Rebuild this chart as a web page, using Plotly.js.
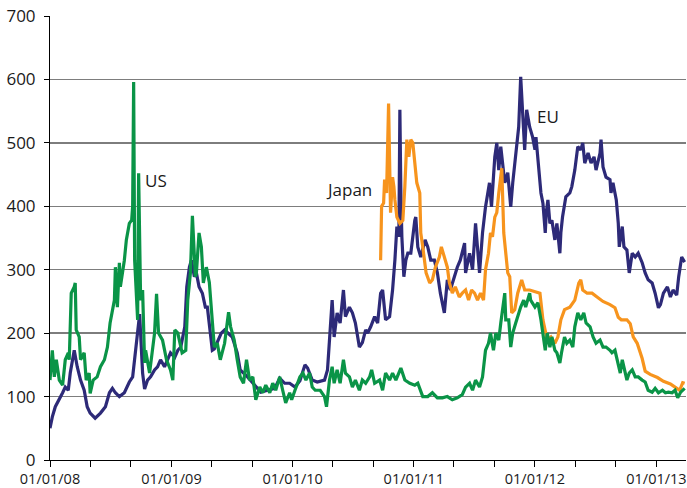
<!DOCTYPE html>
<html>
<head>
<meta charset="utf-8">
<script src="https://cdn.plot.ly/plotly-3.0.1.min.js"></script>
<style>html,body{margin:0;padding:0;background:#fff;}#chart{width:687px;height:488px;}</style>
</head>
<body>
<div id="chart"></div>
<script>
// EU series
var euDates = ["2008-01-01","2008-01-08","2008-01-17","2008-01-29","2008-02-08","2008-02-16","2008-02-25","2008-03-02","2008-03-11","2008-03-14","2008-03-23","2008-04-02","2008-04-13","2008-04-22","2008-05-01","2008-05-16","2008-06-01","2008-06-16","2008-06-28","2008-07-07","2008-07-16","2008-07-28","2008-08-12","2008-08-27","2008-09-06","2008-09-15","2008-09-27","2008-10-06","2008-10-12","2008-10-21","2008-10-30","2008-11-11","2008-11-20","2008-11-29","2008-12-11","2008-12-20","2008-12-29","2009-01-11","2009-01-20","2009-01-29","2009-02-10","2009-02-16","2009-02-24","2009-03-02","2009-03-11","2009-03-17","2009-03-25","2009-04-04","2009-04-13","2009-04-19","2009-05-04","2009-05-10","2009-05-19","2009-05-31","2009-06-10","2009-06-22","2009-07-03","2009-07-18","2009-07-27","2009-08-18","2009-09-09","2009-09-27","2009-10-18","2009-11-08","2009-11-23","2009-12-08","2009-12-23","2010-01-08","2010-01-23","2010-02-07","2010-02-15","2010-03-01","2010-03-16","2010-04-07","2010-04-16","2010-04-22","2010-04-30","2010-05-06","2010-05-15","2010-05-24","2010-06-03","2010-06-09","2010-06-21","2010-06-30","2010-07-09","2010-07-21","2010-07-30","2010-08-09","2010-08-15","2010-08-24","2010-09-05","2010-09-14","2010-09-23","2010-09-29","2010-10-08","2010-10-20","2010-10-29","2010-11-05","2010-11-11","2010-11-17","2010-11-20","2010-11-23","2010-11-26","2010-12-02","2010-12-08","2010-12-14","2010-12-23","2011-01-04","2011-01-07","2011-01-13","2011-01-22","2011-02-04","2011-02-12","2011-02-21","2011-03-04","2011-03-13","2011-03-22","2011-04-03","2011-04-12","2011-04-21","2011-05-03","2011-05-12","2011-05-21","2011-06-03","2011-06-06","2011-06-18","2011-06-27","2011-07-06","2011-07-18","2011-07-27","2011-08-05","2011-08-17","2011-08-23","2011-09-02","2011-09-08","2011-09-14","2011-09-20","2011-10-02","2011-10-11","2011-10-20","2011-10-26","2011-11-04","2011-11-13","2011-11-19","2011-11-25","2011-12-01","2011-12-07","2011-12-16","2011-12-25","2012-01-01","2012-01-04","2012-01-10","2012-01-19","2012-01-25","2012-02-01","2012-02-04","2012-02-09","2012-02-15","2012-02-21","2012-03-01","2012-03-07","2012-03-16","2012-03-19","2012-03-24","2012-04-03","2012-04-15","2012-04-21","2012-04-30","2012-05-09","2012-05-18","2012-05-24","2012-05-30","2012-06-09","2012-06-18","2012-06-27","2012-07-03","2012-07-15","2012-07-18","2012-07-24","2012-08-02","2012-08-14","2012-08-17","2012-08-23","2012-09-02","2012-09-08","2012-09-11","2012-09-20","2012-09-25","2012-10-04","2012-10-11","2012-10-20","2012-10-29","2012-11-07","2012-11-19","2012-11-28","2012-12-07","2012-12-19","2012-12-28","2013-01-07","2013-01-13","2013-01-22","2013-02-03","2013-02-12","2013-02-20","2013-03-03","2013-03-09","2013-03-18","2013-03-27"];
var euValues = [50,68,84,95,106,115,110,137,169,173,147,126,110,84,74,66,74,84,106,113,106,100,106,123,131,173,230,137,112,126,131,142,147,158,147,158,169,162,173,178,210,273,304,315,289,295,273,263,241,241,173,175,185,200,205,200,194,169,142,131,118,107,110,113,129,121,121,115,125,150,145,126,123,126,142,185,252,194,232,216,268,226,241,232,216,178,185,205,200,210,226,216,263,268,221,226,268,315,368,352,552,421,352,289,315,326,326,378,383,336,320,347,336,315,315,295,263,232,284,268,289,304,315,342,295,326,300,373,295,358,399,437,399,478,500,457,494,437,453,399,437,478,525,604,552,489,552,525,509,489,509,473,421,405,358,390,410,373,378,347,373,326,358,383,415,421,431,457,494,489,500,468,484,468,478,457,484,505,462,446,442,421,437,410,373,336,368,336,331,295,326,320,326,311,295,284,279,263,240,245,263,273,257,268,260,289,320,312];

// US series
var usDates = ["2008-01-01","2008-01-08","2008-01-14","2008-01-20","2008-01-29","2008-02-08","2008-02-16","2008-02-25","2008-02-28","2008-03-05","2008-03-14","2008-03-17","2008-03-20","2008-03-29","2008-04-02","2008-04-13","2008-04-19","2008-04-28","2008-05-01","2008-05-10","2008-05-22","2008-06-01","2008-06-13","2008-06-22","2008-06-30","2008-07-13","2008-07-16","2008-07-22","2008-07-28","2008-07-31","2008-08-12","2008-08-18","2008-08-27","2008-09-03","2008-09-06","2008-09-09","2008-09-12","2008-09-18","2008-09-21","2008-09-24","2008-09-30","2008-10-06","2008-10-12","2008-10-15","2008-10-27","2008-11-11","2008-11-17","2008-11-23","2008-12-05","2008-12-17","2008-12-29","2009-01-05","2009-01-11","2009-01-20","2009-02-02","2009-02-13","2009-02-19","2009-02-27","2009-03-05","2009-03-14","2009-03-17","2009-03-25","2009-04-01","2009-04-07","2009-04-16","2009-04-25","2009-05-04","2009-05-10","2009-05-19","2009-05-28","2009-06-10","2009-06-22","2009-06-28","2009-07-09","2009-07-18","2009-07-27","2009-08-06","2009-08-15","2009-08-24","2009-09-03","2009-09-12","2009-09-24","2009-10-03","2009-10-12","2009-10-24","2009-11-02","2009-11-11","2009-11-23","2009-12-02","2009-12-11","2009-12-23","2009-12-29","2010-01-08","2010-01-23","2010-02-01","2010-02-10","2010-02-21","2010-03-01","2010-03-10","2010-03-25","2010-04-07","2010-04-13","2010-04-22","2010-04-30","2010-05-06","2010-05-15","2010-05-24","2010-06-03","2010-06-09","2010-06-21","2010-06-30","2010-07-09","2010-07-21","2010-07-30","2010-08-09","2010-08-21","2010-08-27","2010-09-05","2010-09-20","2010-09-29","2010-10-08","2010-10-20","2010-10-29","2010-11-08","2010-11-23","2010-12-05","2010-12-20","2011-01-04","2011-01-13","2011-01-28","2011-02-12","2011-02-26","2011-03-13","2011-03-28","2011-04-12","2011-04-27","2011-05-12","2011-05-27","2011-06-06","2011-06-18","2011-06-27","2011-07-06","2011-07-18","2011-07-27","2011-08-05","2011-08-14","2011-08-20","2011-08-29","2011-09-05","2011-09-14","2011-09-20","2011-09-26","2011-10-02","2011-10-05","2011-10-14","2011-10-20","2011-10-26","2011-11-04","2011-11-13","2011-11-19","2011-11-28","2011-12-04","2011-12-16","2011-12-19","2012-01-01","2012-01-10","2012-01-19","2012-01-25","2012-02-01","2012-02-07","2012-02-15","2012-02-21","2012-03-01","2012-03-07","2012-03-16","2012-03-21","2012-03-30","2012-04-06","2012-04-15","2012-04-24","2012-04-30","2012-05-09","2012-05-18","2012-05-27","2012-06-03","2012-06-15","2012-06-24","2012-07-03","2012-07-15","2012-07-24","2012-08-02","2012-08-14","2012-08-20","2012-08-29","2012-09-08","2012-09-14","2012-09-20","2012-09-25","2012-10-04","2012-10-11","2012-10-20","2012-10-29","2012-11-07","2012-11-19","2012-11-28","2012-12-07","2012-12-19","2012-12-28","2013-01-07","2013-01-19","2013-01-28","2013-02-06","2013-02-17","2013-02-26","2013-03-06","2013-03-15","2013-03-27"];
var usValues = [126,173,131,158,126,118,158,169,158,263,273,279,205,194,158,169,126,137,105,126,131,147,158,178,216,252,304,241,311,273,315,347,373,378,400,596,315,241,221,452,252,268,153,173,137,200,262,200,189,158,142,126,205,200,169,173,252,295,385,289,295,358,336,279,304,280,221,178,184,158,184,233,210,189,158,131,121,158,126,131,95,115,106,118,106,121,110,131,110,90,106,95,110,131,137,126,137,115,110,110,100,84,126,147,121,142,121,158,137,131,115,126,110,126,121,131,142,121,126,110,137,126,137,126,145,126,121,118,121,100,100,106,98,98,100,95,98,103,115,121,110,126,115,131,173,184,200,173,200,189,216,241,263,221,221,178,200,216,232,241,252,241,263,252,241,248,221,200,173,200,178,194,173,169,153,169,194,184,189,178,210,232,221,232,216,210,194,184,189,178,178,173,169,173,147,137,158,147,126,137,142,131,131,126,123,110,107,113,106,110,106,107,106,110,98,107,113];

// Japan series
var jpDates = ["2010-09-23","2010-09-26","2010-10-02","2010-10-05","2010-10-11","2010-10-17","2010-10-20","2010-10-23","2010-10-29","2010-11-02","2010-11-05","2010-11-11","2010-11-20","2010-11-29","2010-12-05","2010-12-11","2010-12-17","2010-12-23","2010-12-29","2011-01-04","2011-01-10","2011-01-19","2011-01-22","2011-01-28","2011-02-07","2011-02-18","2011-02-26","2011-03-07","2011-03-19","2011-03-25","2011-04-03","2011-04-12","2011-04-18","2011-04-27","2011-05-06","2011-05-18","2011-05-27","2011-06-06","2011-06-15","2011-06-24","2011-07-03","2011-07-12","2011-07-21","2011-07-30","2011-08-05","2011-08-14","2011-08-20","2011-08-26","2011-09-02","2011-09-08","2011-09-14","2011-09-23","2011-09-29","2011-10-05","2011-10-11","2011-10-17","2011-10-23","2011-11-01","2011-11-10","2011-11-22","2011-12-01","2011-12-16","2012-01-04","2012-01-16","2012-01-25","2012-02-07","2012-02-18","2012-03-01","2012-03-10","2012-03-19","2012-03-30","2012-04-15","2012-04-30","2012-05-12","2012-05-18","2012-05-24","2012-06-06","2012-06-21","2012-07-06","2012-07-24","2012-08-14","2012-08-29","2012-09-08","2012-09-17","2012-10-04","2012-10-14","2012-10-23","2012-11-04","2012-11-19","2012-11-28","2012-12-13","2013-01-04","2013-01-22","2013-02-12","2013-02-26","2013-03-12","2013-03-21","2013-03-27"];
var jpValues = [315,400,405,442,421,562,473,390,446,431,410,383,373,378,431,505,478,505,500,473,437,421,358,336,295,279,284,304,320,336,320,304,280,263,273,257,263,268,252,268,263,252,263,252,300,326,358,352,383,390,421,460,358,330,295,289,232,237,263,284,268,268,265,263,221,189,194,184,194,221,237,241,252,279,284,268,263,263,257,250,245,240,225,221,221,215,194,184,160,140,135,130,124,120,115,110,122,121];

// Labels
var seriesNames = ["EU", "US", "Japan"];
var labelDates = ["2012-02-09", "2008-11-14", "2010-06-21"];
var labelValues = [541, 440, 426];
var yTickVals = [0, 100, 200, 300, 400, 500, 600, 700];

var FONT = "'Open Sans', 'DejaVu Sans', sans-serif";
var colors = {EU: "#2d2a78", US: "#0a9447", Japan: "#f7941d"};

var traces = [
  {x: euDates, y: euValues, name: "EU", type: "scatter", mode: "lines", line: {color: colors.EU, width: 3.2}},
  {x: jpDates, y: jpValues, name: "Japan", type: "scatter", mode: "lines", line: {color: colors.Japan, width: 3.2}},
  {x: usDates, y: usValues, name: "US", type: "scatter", mode: "lines", line: {color: colors.US, width: 3.2}}
];

var annotations = seriesNames.map(function (n, i) {
  return {x: labelDates[i], y: labelValues[i], xref: "x", yref: "y", text: n, showarrow: false,
    xanchor: "center", yanchor: "middle", font: {family: FONT, size: 17, color: "#1a1a1a"}};
});

var layout = {
  width: 687, height: 488,
  margin: {l: 50, r: 1, t: 16, b: 28, pad: 0},
  paper_bgcolor: "#fff", plot_bgcolor: "#fff",
  showlegend: false,
  font: {family: FONT, color: "#1a1a1a"},
  xaxis: {
    type: "date", range: ["2008-01-01", "2013-03-31"],
    tick0: "2008-01-01", dtick: "M12", tickformat: "%d/%m/%y",
    ticks: "outside", ticklen: 6, tickcolor: "#000", tickwidth: 1,
    showline: true, linecolor: "#000", linewidth: 1,
    showgrid: false, zeroline: false,
    tickfont: {family: FONT, size: 14.5, color: "#1a1a1a"},
    minor: {tick0: "2008-01-01", dtick: "M4", ticks: "outside", ticklen: 6, tickcolor: "#000", tickwidth: 1, showgrid: false}
  },
  yaxis: {
    range: [0, 700], tickvals: yTickVals,
    ticks: "outside", ticklen: 5, tickcolor: "#000",
    ticklabelstandoff: 5,
    showline: true, linecolor: "#000", linewidth: 1,
    showgrid: true, gridcolor: "#7d7d7d", gridwidth: 1.5,
    zeroline: false,
    tickfont: {family: FONT, size: 17, color: "#1a1a1a"}
  },
  annotations: annotations
};

Plotly.newPlot("chart", traces, layout, {staticPlot: true, displayModeBar: false});
</script>
</body>
</html>
